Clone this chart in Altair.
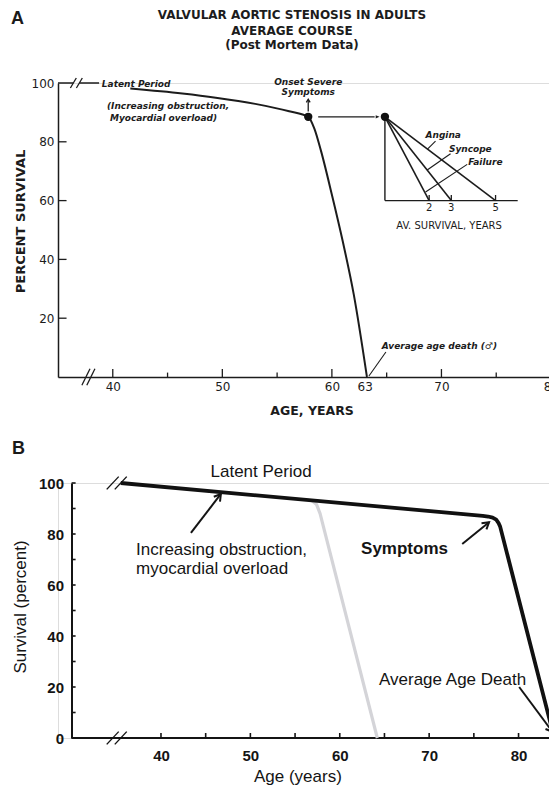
import math
import altair as alt
import pandas as pd

# ================= Panel A : hand-lettered original =================
a_title_lines = ["VALVULAR AORTIC STENOSIS IN ADULTS", "AVERAGE COURSE", "(Post Mortem Data)"]
a_title_y = [121.6, 116.2, 111.7]
a_curve_age = [41.6, 46.35, 49.4, 53.0, 56.1, 57.84, 58.4, 59.0, 60.0, 61.0, 62.0, 63.2]
a_curve_surv = [98.1, 96.4, 95.0, 92.9, 90.4, 88.5, 84.5, 77.0, 62.0, 46.0, 28.0, 0.0]
a_onset = [57.84, 88.5]
a_x_labels = [40, 50, 60, 63, 70, 80]
a_x_ticks = [40, 45, 50, 55, 60, 65, 70, 75, 80]
a_y_labels = [20, 40, 60, 80, 100]
a_y_ticks = [20, 40, 60, 80]
a_top_line_from = [35.0, 36.95]
a_top_line_to = [36.4, 38.75]
a_top_breaks = [36.4, 36.95]
a_axis_breaks = [37.55, 38.0]
# inset: average survival (years) after onset of each symptom
a_inset_causes = ["Failure", "Syncope", "Angina"]
a_inset_years = [2, 3, 5]
a_inset_axis_years = 6
a_inset_floor = 60
a_inset_origin_age = 64.84
a_inset_age_per_year = 2.02
a_notes = ["Latent Period", "(Increasing obstruction,", "Myocardial overload)",
           "Angina", "Syncope", "Failure", "Average age death (\u2642)"]
a_notes_x = [39.0, 39.47, 39.74, 68.55, 70.68, 72.44, 64.56]
a_notes_y = [98.7, 91.2, 87.2, 81.4, 76.5, 72.0, 9.4]
a_onset_notes = ["Onset Severe", "Symptoms"]
a_onset_notes_y = [99.4, 96.0]
a_leader_x = [69.46, 70.83, 72.35, 63.38]
a_leader_y = [80.24, 75.96, 72.33, 0.34]
a_leader_x2 = [68.70, 68.70, 68.55, 64.93]
a_leader_y2 = [77.42, 70.39, 62.92, 8.5]

# ================= Panel B : redrawn version =================
b_main_age = [35.5, 76.0, 76.6, 77.1, 77.5, 77.75, 77.95, 84.0]
b_main_surv = [100.0, 87.1, 86.85, 86.4, 85.6, 84.4, 82.8, 0.0]
b_early_age = [56.9, 57.4, 57.8, 64.2]
b_early_surv = [93.0, 91.6, 88.0, 0.0]
b_x_labels = [40, 50, 60, 70, 80]
b_x_ticks = [40, 45, 50, 55, 60, 65, 70, 75, 80]
b_y_labels = [0, 20, 40, 60, 80, 100]
b_y_ticks = [10, 20, 30, 40, 50, 60, 70, 80, 90, 100]
b_breaks = [34.6, 35.5]
b_notes = ["Latent Period", "Increasing obstruction,", "myocardial overload", "Average Age Death"]
b_notes_x = [45.54, 37.21, 37.21, 64.39]
b_notes_y = [102.5, 71.8, 64.4, 20.7]
b_bold_notes = ["Symptoms"]
b_bold_notes_x = [62.38]
b_bold_notes_y = [72.2]
b_arrow_from_x = [43.35, 73.7, 80.07]
b_arrow_from_y = [80.4, 76.1, 20.0]
b_arrow_to_x = [46.7, 76.7, 83.8]
b_arrow_to_y = [95.7, 84.6, 2.4]

# ---------------- geometry of the two panels ----------------
WA, HA = 493, 294
WB, HB = 498, 255
XA_DOM = [35.0, 80.0]
XB_DOM = [28.48, 84.19]
KXA, KYA = WA / (XA_DOM[1] - XA_DOM[0]), HA / 100.0
KXB, KYB = WB / (XB_DOM[1] - XB_DOM[0]), HB / 100.0

INK_A = "#1c1c1c"
INK_B = "#141414"
FA = "DejaVu Sans"
FB = "Liberation Sans"


def screen_angle(x0, y0, x1, y1, kx, ky):
    dx = (x1 - x0) * kx
    dy = -(y1 - y0) * ky
    return math.degrees(math.atan2(dx, -dy)) % 360


axis_xa = alt.Axis(values=a_x_labels, ticks=False, tickSize=0, grid=False, domainColor=INK_A,
                   domainWidth=1.5, labelFont=FA, labelFontSize=12, labelColor=INK_A,
                   labelPadding=4, labelFlush=False, labelOverlap=False, format="d",
                   title="AGE, YEARS", titleFont=FA, titleFontSize=12.5, titleFontWeight="bold",
                   titleColor=INK_A, titleX=253.6, titleY=33.7, titleAlign="center",
                   titleBaseline="middle")
axis_ya = alt.Axis(values=a_y_labels, ticks=False, tickSize=0, grid=False, domainColor=INK_A,
                   domainWidth=1.5, labelFont=FA, labelFontSize=12, labelColor=INK_A,
                   labelPadding=4, labelFlush=False, labelOverlap=False, format="d",
                   title="PERCENT SURVIVAL", titleFont=FA, titleFontSize=13,
                   titleFontWeight="bold", titleColor=INK_A, titleX=-37.5, titleY=138,
                   titleAngle=270, titleAlign="center", titleBaseline="middle")
axis_xb = alt.Axis(values=b_x_labels, ticks=False, tickSize=0, grid=False, domain=False,
                   labelFont=FB, labelFontSize=15, labelFontWeight="bold", labelColor=INK_B,
                   labelPadding=10, labelFlush=False, labelOverlap=False, format="d",
                   title="Age (years)", titleFont=FB, titleFontSize=17, titleFontWeight="normal",
                   titleColor=INK_B, titleX=239.4, titleY=38, titleAlign="center",
                   titleBaseline="middle")
axis_yb = alt.Axis(values=b_y_labels, ticks=False, tickSize=0, grid=False, domainColor=INK_B,
                   domainWidth=2, offset=-13.5, labelFont=FB, labelFontSize=15,
                   labelFontWeight="bold", labelColor=INK_B, labelPadding=8, labelFlush=False,
                   labelOverlap=False, format="d", title="Survival (percent)", titleFont=FB,
                   titleFontSize=17, titleFontWeight="normal", titleColor=INK_B, titleX=-51.5,
                   titleY=123.5, titleAngle=270, titleAlign="center", titleBaseline="middle")


def make_enc(xdom, xaxis, yaxis):
    xs = alt.Scale(domain=xdom, nice=False, zero=False)
    ys = alt.Scale(domain=[0, 100], nice=False, zero=False)
    return (lambda: alt.X("x:Q", scale=xs, axis=xaxis)), (lambda: alt.Y("y:Q", scale=ys, axis=yaxis))


XA, YA = make_enc(XA_DOM, axis_xa, axis_ya)
XB, YB = make_enc(XB_DOM, axis_xb, axis_yb)


def line_layer(xs, ys, X, Y, **mk):
    df = pd.DataFrame({"x": xs, "y": ys, "o": list(range(len(xs)))})
    return alt.Chart(df).mark_line(**mk).encode(x=X(), y=Y(), order="o:Q")


def seg_layer(x, y, x2, y2, X, Y, **mk):
    df = pd.DataFrame({"x": x, "y": y, "x2": x2, "y2": y2})
    return alt.Chart(df).mark_rule(**mk).encode(x=X(), y=Y(), x2="x2:Q", y2="y2:Q")


def text_layer(texts, xs, ys, X, Y, **mk):
    df = pd.DataFrame({"x": xs, "y": ys, "t": texts})
    return alt.Chart(df).mark_text(**mk).encode(x=X(), y=Y(), text="t:N")


def head_layer(xs, ys, angles, X, Y, **mk):
    df = pd.DataFrame({"x": xs, "y": ys, "a": angles})
    return alt.Chart(df).mark_point(**mk).encode(x=X(), y=Y(),
                                                 angle=alt.Angle("a:Q", scale=None))


CHEVRON = "M -0.6 1 L 0 0 L 0.6 1"
WEDGE = "M 0 0 L -1 -0.42 L -1 0.42 Z"

# ---------------- build panel A ----------------
xa_tick_len = [2.7 if t % 10 == 0 else 1.5 for t in a_x_ticks]
inset_ages = [a_inset_origin_age + a_inset_age_per_year * t for t in a_inset_years]
inset_end = a_inset_origin_age + a_inset_age_per_year * a_inset_axis_years

slash_a_top = seg_layer([b - 0.27 for b in a_top_breaks], [98.3] * 2,
                        [b + 0.27 for b in a_top_breaks], [101.7] * 2, XA, YA,
                        color=INK_A, strokeWidth=1.3)
slash_a_axis = seg_layer([b - 0.37 for b in a_axis_breaks], [-2.8] * 2,
                         [b + 0.37 for b in a_axis_breaks], [2.8] * 2, XA, YA,
                         color=INK_A, strokeWidth=1.3)

panel_a = alt.layer(
    line_layer(a_curve_age, a_curve_surv, XA, YA, color=INK_A, strokeWidth=2,
               interpolate="monotone"),
    seg_layer(a_top_line_from, [100, 100], a_top_line_to, [100, 100], XA, YA,
              color=INK_A, strokeWidth=1.5),
    slash_a_top, slash_a_axis,
    seg_layer(a_x_ticks, [0] * len(a_x_ticks), a_x_ticks, xa_tick_len, XA, YA,
              color=INK_A, strokeWidth=1.3),
    seg_layer([XA_DOM[0]] * len(a_y_ticks), a_y_ticks,
              [XA_DOM[0] + 0.78] * len(a_y_ticks), a_y_ticks, XA, YA,
              color=INK_A, strokeWidth=1.3),
    # inset axes, survival lines and ticks
    seg_layer([a_inset_origin_age, a_inset_origin_age], [a_onset[1], a_inset_floor],
              [a_inset_origin_age, inset_end], [a_inset_floor, a_inset_floor], XA, YA,
              color=INK_A, strokeWidth=1.4),
    seg_layer([a_inset_origin_age] * 3, [a_onset[1]] * 3, inset_ages,
              [a_inset_floor] * 3, XA, YA, color=INK_A, strokeWidth=1.6),
    seg_layer(inset_ages, [a_inset_floor] * 3, inset_ages, [a_inset_floor + 1.9] * 3,
              XA, YA, color=INK_A, strokeWidth=1.3),
    seg_layer(a_leader_x, a_leader_y, a_leader_x2, a_leader_y2, XA, YA,
              color=INK_A, strokeWidth=1.1),
    # arrows from onset point
    seg_layer([a_onset[0]], [90.3], [a_onset[0]], [94.3], XA, YA, color=INK_A, strokeWidth=1.3),
    head_layer([a_onset[0]], [94.5], [0], XA, YA, shape=CHEVRON, size=40, filled=False,
               color=INK_A, strokeWidth=1.3, opacity=1),
    seg_layer([58.75], [a_onset[1]], [63.9], [a_onset[1]], XA, YA, color=INK_A, strokeWidth=1.3),
    head_layer([64.35], [a_onset[1]], [0], XA, YA, shape=WEDGE, size=60, filled=True,
               color=INK_A, opacity=1),
    # dots
    alt.Chart(pd.DataFrame({"x": [a_onset[0], a_inset_origin_age], "y": [a_onset[1]] * 2}))
    .mark_point(filled=True, size=70, color="#111111", opacity=1).encode(x=XA(), y=YA()),
    # texts
    text_layer(a_title_lines, [56.36] * 3, a_title_y, XA, YA, font=FA, fontSize=12,
               fontWeight="bold", color=INK_A, align="center", baseline="alphabetic"),
    text_layer(["A"], [30.71], [120.1], XA, YA, font=FB, fontSize=18, fontWeight="bold",
               color="#1a1a1a", align="left", baseline="alphabetic"),
    text_layer(a_notes, a_notes_x, a_notes_y, XA, YA, font=FA, fontSize=9, fontStyle="italic",
               fontWeight="bold", color=INK_A, align="left", baseline="alphabetic"),
    text_layer(a_onset_notes, [a_onset[0]] * 2, a_onset_notes_y, XA, YA, font=FA, fontSize=9,
               fontStyle="italic", fontWeight="bold", color=INK_A, align="center",
               baseline="alphabetic"),
    text_layer([str(y) for y in a_inset_years], inset_ages, [56.4] * 3, XA, YA, font=FA,
               fontSize=10, color=INK_A, align="center", baseline="alphabetic"),
    text_layer(["AV. SURVIVAL, YEARS"], [70.7], [50.5], XA, YA, font=FA, fontSize=10,
               color=INK_A, align="center", baseline="alphabetic"),
).properties(width=WA, height=HA)

# ---------------- build panel B ----------------
b_angles = [screen_angle(x0, y0, x1, y1, KXB, KYB) for x0, y0, x1, y1 in
            zip(b_arrow_from_x, b_arrow_from_y, b_arrow_to_x, b_arrow_to_y)]
sl_dx, sl_dy = 0.67, 2.5
b_slash_x = [b - sl_dx for b in b_breaks] * 2
b_slash_x2 = [b + sl_dx for b in b_breaks] * 2
b_slash_y = [100 - sl_dy] * 2 + [-sl_dy] * 2
b_slash_y2 = [100 + sl_dy] * 2 + [sl_dy] * 2

panel_b = alt.layer(
    seg_layer([30.0], [0], [XB_DOM[1]], [0], XB, YB, color=INK_B, strokeWidth=2),
    seg_layer(b_x_ticks, [0] * len(b_x_ticks), b_x_ticks, [1.96] * len(b_x_ticks), XB, YB,
              color=INK_B, strokeWidth=1.6),
    seg_layer([30.0] * len(b_y_ticks), b_y_ticks, [30.45] * len(b_y_ticks), b_y_ticks, XB, YB,
              color=INK_B, strokeWidth=1.6),
    seg_layer(b_slash_x, b_slash_y, b_slash_x2, b_slash_y2, XB, YB, color=INK_B,
              strokeWidth=1.4),
    line_layer(b_early_age, b_early_surv, XB, YB, color="#d4d4d8", strokeWidth=3.2,
               strokeJoin="round", strokeCap="butt"),
    line_layer(b_main_age, b_main_surv, XB, YB, color="#111111", strokeWidth=3.8,
               strokeJoin="round", strokeCap="butt"),
    seg_layer(b_arrow_from_x, b_arrow_from_y, b_arrow_to_x, b_arrow_to_y, XB, YB,
              color=INK_B, strokeWidth=2),
    head_layer(b_arrow_to_x, b_arrow_to_y, b_angles, XB, YB, shape=CHEVRON, size=170,
               filled=False, color=INK_B, strokeWidth=2, opacity=1),
    text_layer(b_notes, b_notes_x, b_notes_y, XB, YB, font=FB, fontSize=17, color=INK_B,
               align="left", baseline="alphabetic"),
    text_layer(b_bold_notes, b_bold_notes_x, b_bold_notes_y, XB, YB, font=FB, fontSize=17,
               fontWeight="bold", color=INK_B, align="left", baseline="alphabetic"),
    text_layer(["B"], [23.33], [111.4], XB, YB, font=FB, fontSize=18, fontWeight="bold",
               color="#1a1a1a", align="left", baseline="alphabetic"),
).properties(width=WB, height=HB)

chart = alt.vconcat(panel_a, panel_b, spacing=106, bounds="flush").properties(
    padding={"left": 2, "top": 0, "right": -11, "bottom": 2}
).configure_view(stroke=None).configure(background="white")

chart.save("out.html", embed_options={"renderer": "svg", "actions": False})
